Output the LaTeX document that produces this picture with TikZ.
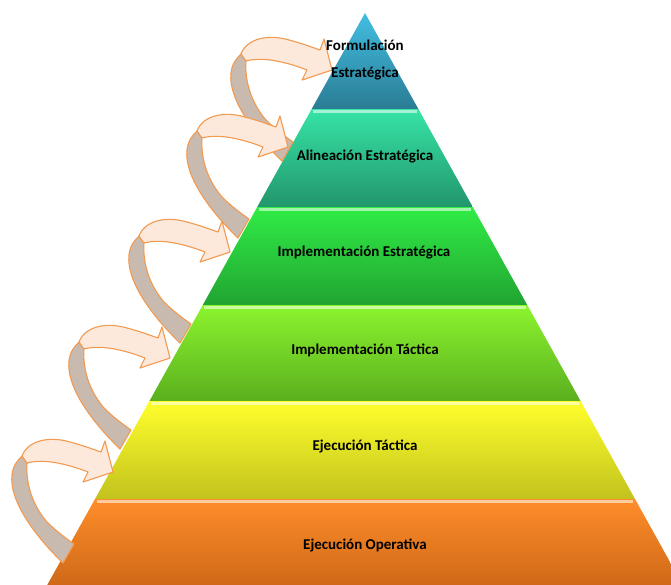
\documentclass[tikz,border=0pt]{standalone}
\usepackage{fontspec}
\setmainfont{Carlito}
\usetikzlibrary{calc}
\definecolor{bandback}{HTML}{C9BAB0}
\definecolor{bandfront}{HTML}{FCE9DC}
\definecolor{bandedge}{HTML}{F29A50}
\definecolor{tieronetop}{HTML}{42BEE2}
\definecolor{tieronebot}{HTML}{2A7C94}
\definecolor{tiertwotop}{HTML}{36E4A6}
\definecolor{tiertwobot}{HTML}{22966C}
\definecolor{tierthreetop}{HTML}{30EC46}
\definecolor{tierthreebot}{HTML}{21A431}
\definecolor{tierfourtop}{HTML}{8CF42E}
\definecolor{tierfourbot}{HTML}{5AAF1E}
\definecolor{tierfivetop}{HTML}{FFFF2C}
\definecolor{tierfivebot}{HTML}{C2C21E}
\definecolor{tiersixtop}{HTML}{FF8D2A}
\definecolor{tiersixbot}{HTML}{C86416}
\tikzset{
  tierlabel/.style={font=\bfseries\fontsize{15}{27}\selectfont,
                    text=black,align=center,inner sep=0pt},
  backband/.style={fill=bandback,draw=bandedge,line width=1.1pt,
                   line join=round},
  frontband/.style={fill=bandfront,draw=bandedge,line width=1.1pt,
                    line join=round},
  looparrow/.pic={
    \filldraw[backband] (-50,91) .. controls (-79,63) and (-104,28) .. (-101,3)
      .. controls (-100,-7) and (-95,-12) .. (-91,-16) -- (-86,-9)
      .. controls (-87,3) and (-85,28) .. (-66,50)
      .. controls (-56,60) and (-46,67) .. (-39,72) -- cycle;
    \filldraw[frontband] (-91,-16) .. controls (-85,-32) and (-63,-36) .. (-43,-30)
      .. controls (-28,-26) and (-18,-22) .. (-12,-20) -- (-8,-31) -- (0,0)
      -- (-30,10) -- (-25,0) .. controls (-43,-7) and (-68,-14) .. (-86,-9) -- cycle;
  }
}

\begin{document}
\begin{tikzpicture}[x=1pt,y=-1pt]
  \path[clip] (0,0) rectangle (671,584);
  \fill[white] (0,0) rectangle (671,584);
  % pyramid tiers
  \foreach \yt/\yb/\ct/\cb in {13/109/tieronetop/tieronebot,
      109/207/tiertwotop/tiertwobot,207/305/tierthreetop/tierthreebot,
      305/401/tierfourtop/tierfourbot,401/499/tierfivetop/tierfivebot,
      499/597/tiersixtop/tiersixbot}{
    \pgfmathsetmacro\wt{(\yt-13)*5/9}
    \pgfmathsetmacro\wb{(\yb-13)*5/9}
    \path[top color=\ct,bottom color=\cb] (365-\wt,\yt) -- (365+\wt,\yt)
      -- (365+\wb,\yb) -- (365-\wb,\yb) -- cycle;
  }
  \foreach \yt/\ct in {109/tiertwotop,207/tierthreetop,305/tierfourtop,
      401/tierfivetop,499/tiersixtop}{
    \pgfmathsetmacro\wh{(\yt+2.5-13)*5/9-3}
    \draw[draw=\ct!45!white,line width=2.2pt] (365-\wh,\yt+2.5) -- (365+\wh,\yt+2.5);
  }
  % looping arrows
  \foreach \tx/\ty in {332/70,288/147,230/252,170/358,113/472}
    \pic at (\tx,\ty) {looparrow};
  % labels
  \node[tierlabel] (formulacion) at (365,60) {Formulación\\Estratégica};
  \node[tierlabel] (alineacion) at (365,157) {Alineación Estratégica};
  \node[tierlabel] (implestrat) at (364,253) {Implementación Estratégica};
  \node[tierlabel] (impltact) at (365,350) {Implementación Táctica};
  \node[tierlabel] (ejectact) at (365,446) {Ejecución Táctica};
  \node[tierlabel] (ejecoper) at (365,545) {Ejecución Operativa};
\end{tikzpicture}
\end{document}
